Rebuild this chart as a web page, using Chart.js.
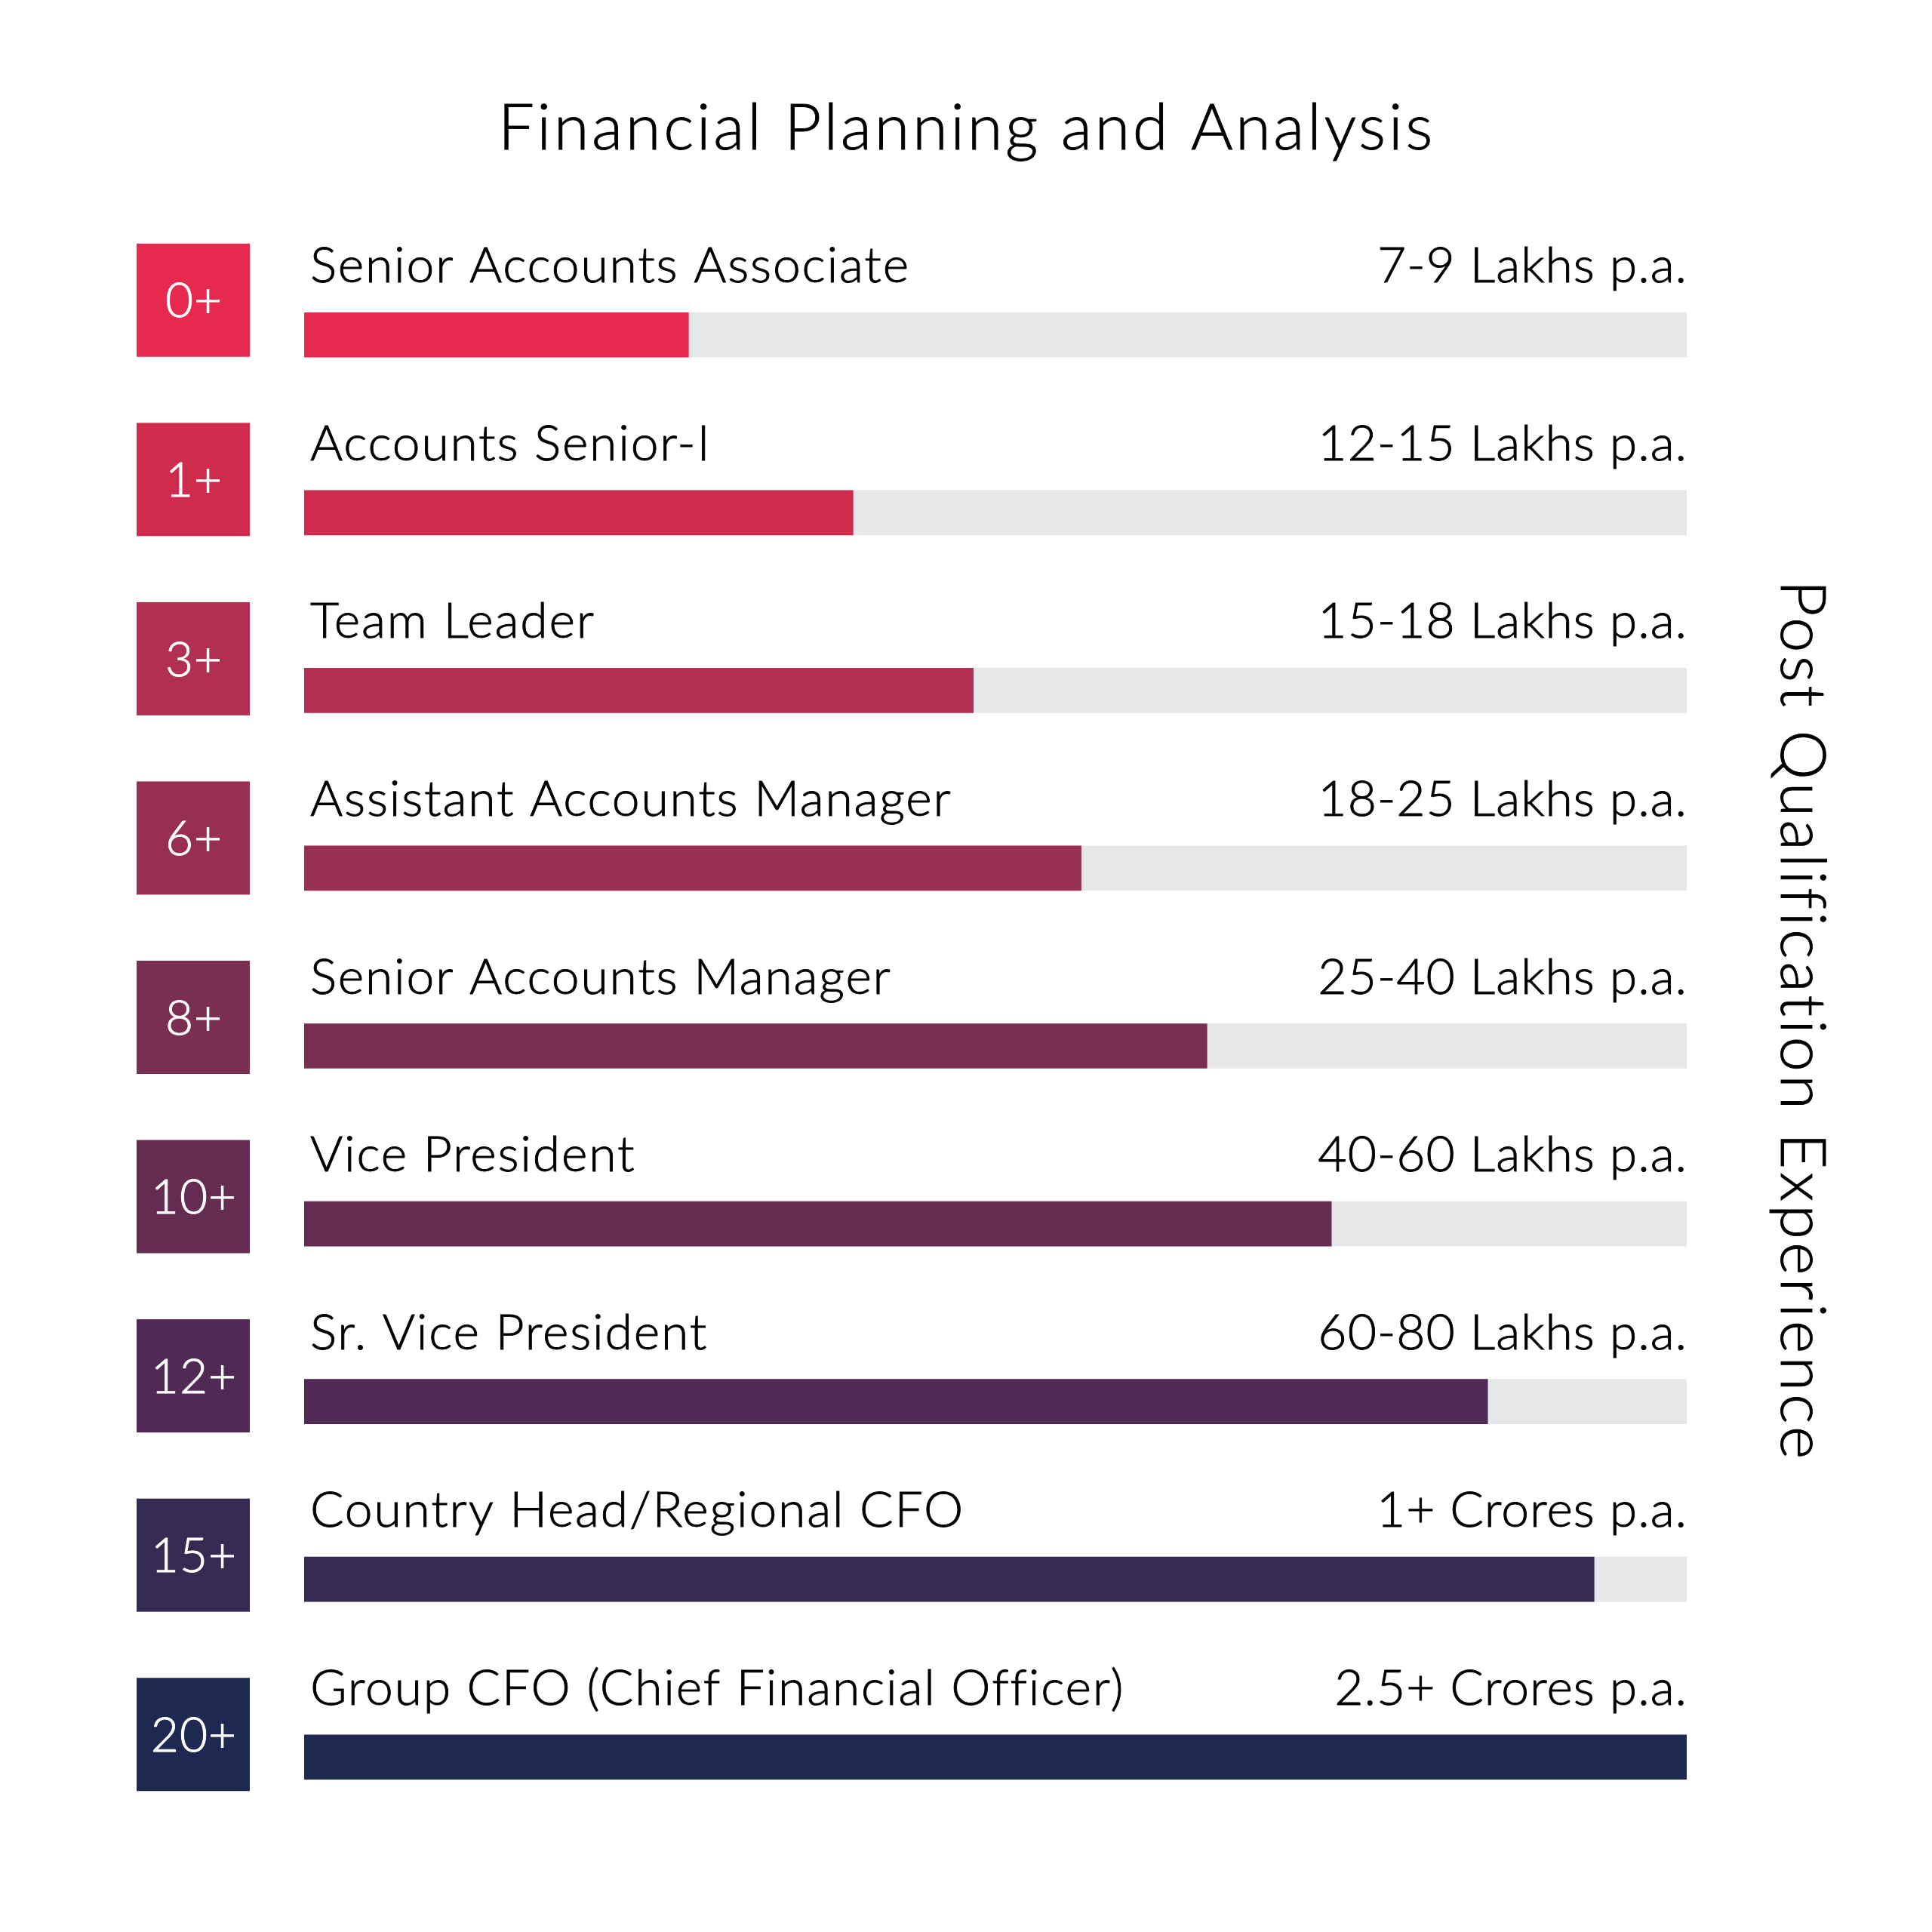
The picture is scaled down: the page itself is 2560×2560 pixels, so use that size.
<!DOCTYPE html>
<html>
<head>
<meta charset="utf-8">
<script src="https://cdn.jsdelivr.net/npm/chart.js@4.4.1/dist/chart.umd.min.js"></script>
<style>
  html, body { margin: 0; padding: 0; background: #fff; }
  #wrap { width: 2560px; height: 2560px; }
</style>
</head>
<body>
<div id="wrap"><canvas id="chart" width="2560" height="2560"></canvas></div>
<script>
const roles = [
  'Senior Accounts Associate',
  'Accounts Senior-I',
  'Team Leader',
  'Assistant Accounts Manager',
  'Senior Accounts Manager',
  'Vice President',
  'Sr. Vice President',
  'Country Head/Regional CFO',
  'Group CFO (Chief Financial Officer)'
];
const salaries = [
  '7-9 Lakhs p.a.',
  '12-15 Lakhs p.a.',
  '15-18 Lakhs p.a.',
  '18-25 Lakhs p.a.',
  '25-40 Lakhs p.a.',
  '40-60 Lakhs p.a.',
  '60-80 Lakhs p.a.',
  '1+ Crores p.a.',
  '2.5+ Crores p.a.'
];
const experience = ['0+', '1+', '3+', '6+', '8+', '10+', '12+', '15+', '20+'];
const barValues = [27.8, 39.7, 48.4, 56.2, 65.3, 74.3, 85.6, 93.3, 100];
const trackValues = [100, 100, 100, 100, 100, 100, 100, 100, 100];

const barColors = [
  '#E8294F', '#CF2B4C', '#B12F51', '#972F51', '#7A2E52',
  '#652C52', '#502A54', '#352B52', '#1E2951'
];
const FONT = 'Lato, "Noto Sans", sans-serif';

// light face with a hairline stroke, closer to the original's book weight
function text(ctx, str, x, y, color) {
  ctx.fillStyle = color;
  ctx.strokeStyle = color;
  ctx.lineWidth = 0.9;
  ctx.fillText(str, x, y);
  ctx.strokeText(str, x, y);
}

// titles, salary labels and the experience boxes
const decorations = {
  id: 'decorations',
  afterDatasetsDraw(chart) {
    const ctx = chart.ctx;
    const xs = chart.scales.x;
    const ys = chart.scales.y;
    const left = xs.getPixelForValue(0);
    const right = xs.getPixelForValue(100);
    ctx.save();

    roles.forEach((role, i) => {
      const y = ys.getPixelForValue(i);
      const barTop = y - 29.5;

      ctx.textBaseline = 'alphabetic';
      ctx.font = '300 66px ' + FONT;
      ctx.letterSpacing = '1.8px';
      ctx.textAlign = 'left';
      text(ctx, role, left + 8, barTop - 40, '#000');
      ctx.letterSpacing = '1px';
      ctx.textAlign = 'right';
      text(ctx, salaries[i], right + 1, barTop - 40, '#000');

      // experience box, sits a little above the bar
      const by = y - (46 - 2 * i) - 75;
      ctx.fillStyle = barColors[i];
      ctx.fillRect(181, by, 150, 150);
      ctx.font = '300 64px ' + FONT;
      ctx.letterSpacing = '1px';
      ctx.textAlign = 'center';
      ctx.textBaseline = 'middle';
      text(ctx, experience[i], 257, by + 77, '#fff');
    });

    ctx.font = '300 85px ' + FONT;
    ctx.letterSpacing = '3.6px';
    ctx.textAlign = 'center';
    ctx.textBaseline = 'alphabetic';
    text(ctx, 'Financial Planning and Analysis', 1281, 198, '#000');

    ctx.translate(2360, 1353);
    ctx.rotate(Math.PI / 2);
    ctx.font = '300 83px ' + FONT;
    ctx.letterSpacing = '4.2px';
    text(ctx, 'Post Qualification Experience', 0, 0, '#000');
    ctx.restore();
  }
};

new Chart(document.getElementById('chart'), {
  type: 'bar',
  data: {
    labels: roles,
    datasets: [
      {
        data: barValues,
        backgroundColor: barColors,
        barThickness: 59,
        grouped: false,
        order: 1
      },
      {
        data: trackValues,
        backgroundColor: '#E6E7E8',
        barThickness: 59,
        grouped: false,
        order: 2
      }
    ]
  },
  options: {
    indexAxis: 'y',
    responsive: false,
    animation: false,
    devicePixelRatio: 1,
    layout: { padding: { left: 403, right: 325, top: 326, bottom: 114 } },
    scales: {
      x: { display: false, min: 0, max: 100 },
      y: { display: false, offset: true }
    },
    plugins: {
      legend: { display: false },
      tooltip: { enabled: false }
    }
  },
  plugins: [decorations]
});
</script>
</body>
</html>
